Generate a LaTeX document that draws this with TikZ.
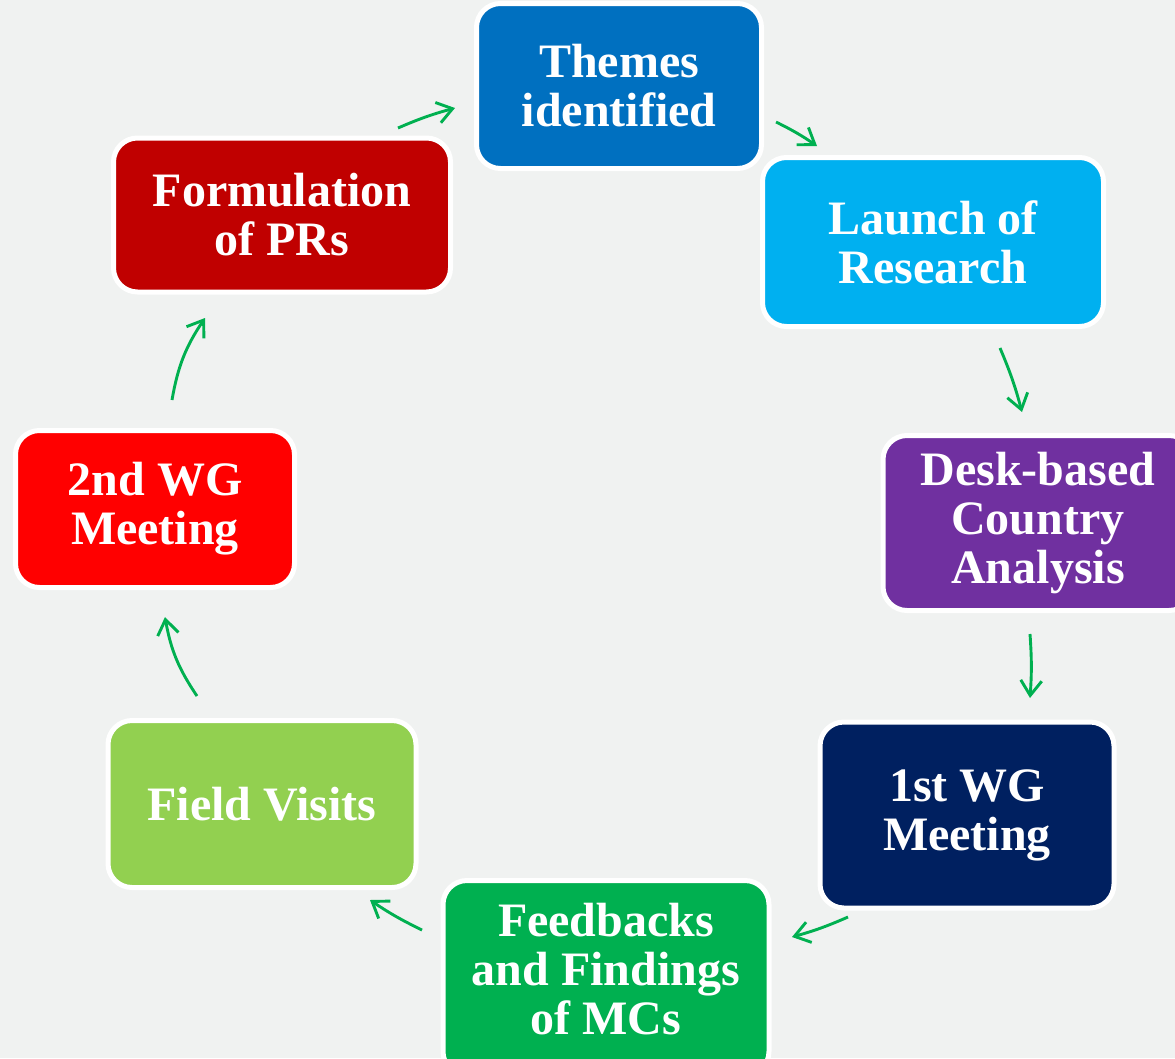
\documentclass[tikz,border=0pt]{standalone}
\usepackage{fontspec}
\setmainfont{Liberation Serif}
\usetikzlibrary{arrows.meta}
\definecolor{bg}{HTML}{F0F2F1}
\definecolor{cThemes}{HTML}{0070C0}
\definecolor{cLaunch}{HTML}{00B0F0}
\definecolor{cDesk}{HTML}{7030A0}
\definecolor{cFirst}{HTML}{002060}
\definecolor{cFeed}{HTML}{00B050}
\definecolor{cField}{HTML}{92D050}
\definecolor{cSecond}{HTML}{FF0000}
\definecolor{cForm}{HTML}{C00000}
\definecolor{cArrow}{HTML}{00B050}
\tikzset{
  stagebox/.style={draw=white, line width=5pt, rounded corners=24pt,
    text=white, align=center, inner sep=0pt,
    font=\fontsize{48}{49}\selectfont\bfseries},
  flow/.style={draw=cArrow, line width=2.9pt,
    -{Straight Barb[length=15pt,width=21pt,line width=2.9pt]}},
}
\begin{document}
\begin{tikzpicture}[x=1pt,y=-1pt]
\clip (0,0) rectangle (1175,1058);
\fill[bg] (0,0) rectangle (1175,1058);

\node[stagebox, fill=cThemes, minimum width=285pt, minimum height=165pt] (themes) at (619,86) {Themes\\identified};
\node[stagebox, fill=cLaunch, minimum width=341pt, minimum height=169pt] (launch) at (933,242) {Launch of\\Research};
\node[stagebox, fill=cDesk, minimum width=310pt, minimum height=175pt] (desk) at (1038,523) {Desk-based\\Country\\Analysis};
\node[stagebox, fill=cFirst, minimum width=294pt, minimum height=186pt] (first) at (967,815) {1st WG\\Meeting};
\node[stagebox, fill=cFeed, minimum width=326pt, minimum height=195pt] (feed) at (606,978) {Feedbacks\\and Findings\\of MCs\rule[-18pt]{0pt}{0pt}};
\node[stagebox, fill=cField, minimum width=308pt, minimum height=167pt] (field) at (262,804) {Field Visits};
\node[stagebox, fill=cSecond, minimum width=279pt, minimum height=157pt] (second) at (155,509) {2nd WG\\Meeting};
\node[stagebox, fill=cForm, minimum width=337pt, minimum height=154pt] (form) at (282,215) {Formulation\\of PRs};

\coordinate (a1s) at (398,128); \coordinate (a1e) at (455,108);
\coordinate (a2s) at (776,122); \coordinate (a2e) at (817,146);
\coordinate (a3s) at (1000,348); \coordinate (a3e) at (1022,412);
\coordinate (a4s) at (1030,634); \coordinate (a4e) at (1030,698);
\coordinate (a5s) at (848,917); \coordinate (a5e) at (792,937);
\coordinate (a6s) at (422,930); \coordinate (a6e) at (370,900);
\coordinate (a7s) at (197,696); \coordinate (a7e) at (165,617);
\coordinate (a8s) at (172,400); \coordinate (a8e) at (205,318);

\draw[flow] (a1s) to[bend left=4] (a1e);
\draw[flow] (a2s) to[bend left=4] (a2e);
\draw[flow] (a3s) to[bend left=4] (a3e);
\draw[flow] (a4s) to[bend left=4] (a4e);
\draw[flow] (a5s) to[bend left=4] (a5e);
\draw[flow] (a6s) to[bend left=4] (a6e);
\draw[flow] (a7s) to[bend left=12] (a7e);
\draw[flow] (a8s) to[bend left=12] (a8e);
\end{tikzpicture}
\end{document}
